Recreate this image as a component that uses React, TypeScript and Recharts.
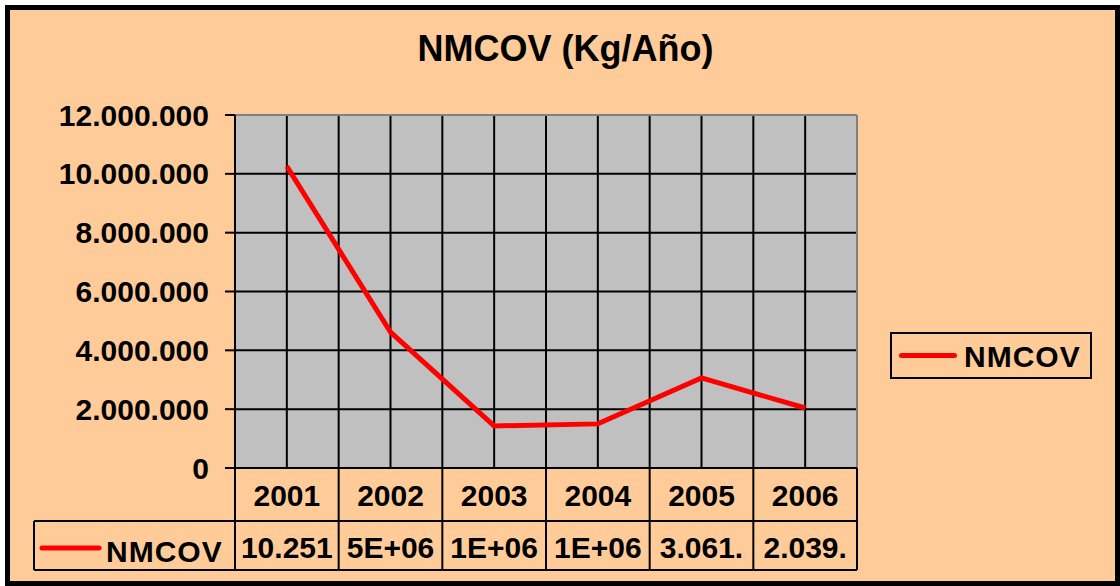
import React from 'react';
import { LineChart, Line, XAxis, YAxis, CartesianGrid, Legend } from 'recharts';

const years = ['2001', '2002', '2003', '2004', '2005', '2006'];
const nmcov = [10251000, 4620000, 1430000, 1500000, 3061000, 2039000];
const tableLabels = ['10.251', '5E+06', '1E+06', '1E+06', '3.061.', '2.039.'];
const yTicks = [0, 2000000, 4000000, 6000000, 8000000, 10000000, 12000000];

const data = years.map((year, i) => ({ year, NMCOV: nmcov[i] }));

const FONT = '"Liberation Sans", Arial, sans-serif';
const W = 1105;
const H = 571;
const PLOT_LEFT = 225;
const PLOT_TOP = 105;
const PLOT_W = 622;
const PLOT_H = 353;
const PLOT_BOTTOM = PLOT_TOP + PLOT_H;
const CELL_W = PLOT_W / 6;
const ROW1_BOTTOM = 511;
const TABLE_BOTTOM = 560;
const TABLE_LEFT = 24;

const gridX = Array.from({ length: 12 }, (_, i) => PLOT_LEFT + (i * PLOT_W) / 12);

const fmt = (v: number) => v.toLocaleString('de-DE');

const textStyle = { fontFamily: FONT, fontWeight: 'bold', fontSize: 30, fill: '#000' } as const;

// data table drawn under the plot, one column per tick
const TableTick = (props: any) => {
    const { x, payload } = props;
    const i = payload.index;
    const half = CELL_W / 2;
    const ln = { stroke: '#000', strokeWidth: 2 };
    return (
        <g>
            <text x={x} y={496} textAnchor="middle" {...textStyle}>{payload.value}</text>
            <text x={x} y={548} textAnchor="middle" {...textStyle}>{tableLabels[i]}</text>
            <line x1={x + half} y1={PLOT_BOTTOM} x2={x + half} y2={TABLE_BOTTOM} {...ln} />
            <line x1={x - half} y1={ROW1_BOTTOM} x2={x + half} y2={ROW1_BOTTOM} {...ln} />
            <line x1={x - half} y1={TABLE_BOTTOM} x2={x + half} y2={TABLE_BOTTOM} {...ln} />
            {i === 0 && (
                <g>
                    <line x1={x - half} y1={PLOT_BOTTOM} x2={x - half} y2={TABLE_BOTTOM} {...ln} />
                    <line x1={TABLE_LEFT} y1={ROW1_BOTTOM} x2={x - half} y2={ROW1_BOTTOM} {...ln} />
                    <line x1={TABLE_LEFT} y1={TABLE_BOTTOM} x2={x - half} y2={TABLE_BOTTOM} {...ln} />
                    <line x1={TABLE_LEFT} y1={ROW1_BOTTOM} x2={TABLE_LEFT} y2={TABLE_BOTTOM} {...ln} />
                    <line x1={32} y1={538} x2={89} y2={538} stroke="#FF0000" strokeWidth={5} strokeLinecap="round" />
                    <text x={96} y={552} {...textStyle} letterSpacing={1}>NMCOV</text>
                </g>
            )}
        </g>
    );
};

const LegendBox = (props: any) => {
    const entry = props.payload && props.payload[0];
    return (
        <div style={{ position: 'relative', width: 202, height: 47, boxSizing: 'border-box', border: '2px solid #000' }}>
            <div style={{ position: 'absolute', left: 7, top: 19, width: 58, height: 5, borderRadius: 3, background: entry ? entry.color : '#FF0000' }} />
            <span style={{ position: 'absolute', left: 72, top: 8, lineHeight: '30px', fontFamily: FONT, fontWeight: 'bold', fontSize: 30, letterSpacing: 1, whiteSpace: 'nowrap' }}>
                {entry ? entry.value : 'NMCOV'}
            </span>
        </div>
    );
};

export default function App() {
    return (
        <div style={{ position: 'absolute', left: 5, top: 5, width: 1115, height: 581, boxSizing: 'border-box', border: '5px solid #000', background: '#FFCC99' }}>
            <style>{'body{margin:0}'}</style>
            <div style={{ position: 'absolute', left: 0, width: W, top: 21, textAlign: 'center', paddingLeft: 6, boxSizing: 'border-box', fontFamily: FONT, fontWeight: 'bold', fontSize: 36, lineHeight: '36px' }}>
                NMCOV (Kg/Año)
            </div>
            <div style={{ position: 'absolute', left: 0, top: 0 }}>
                <LineChart width={W} height={H} data={data} margin={{ top: PLOT_TOP, right: W - PLOT_LEFT - PLOT_W, bottom: 0, left: 0 }}>
                    <CartesianGrid fill="#C0C0C0" fillOpacity={1} stroke="#000" strokeWidth={2} verticalPoints={gridX} />
                    <CartesianGrid horizontal={false} stroke="#808080" strokeWidth={2} verticalPoints={[PLOT_LEFT + PLOT_W]} />
                    <CartesianGrid vertical={false} stroke="#808080" strokeWidth={2} horizontalPoints={[PLOT_TOP]} />
                    <XAxis
                        dataKey="year"
                        height={H - PLOT_BOTTOM}
                        interval={0}
                        padding={{ left: CELL_W / 2, right: CELL_W / 2 }}
                        axisLine={{ stroke: '#000', strokeWidth: 2 }}
                        tickLine={false}
                        tick={<TableTick />}
                    />
                    <YAxis
                        width={PLOT_LEFT}
                        domain={[0, 12000000]}
                        ticks={yTicks}
                        interval={0}
                        tickFormatter={fmt}
                        axisLine={{ stroke: '#000', strokeWidth: 2 }}
                        tickLine={{ stroke: '#000', strokeWidth: 2 }}
                        tickSize={10}
                        tickMargin={16}
                        tick={{ ...textStyle }}
                    />
                    <Legend
                        layout="horizontal"
                        verticalAlign="middle"
                        align="center"
                        content={<LegendBox />}
                        wrapperStyle={{ left: 880, top: 322, width: 202, height: 47 }}
                    />
                    <Line
                        type="linear"
                        dataKey="NMCOV"
                        stroke="#FF0000"
                        strokeWidth={5}
                        dot={false}
                        isAnimationActive={false}
                    />
                </LineChart>
            </div>
        </div>
    );
}
